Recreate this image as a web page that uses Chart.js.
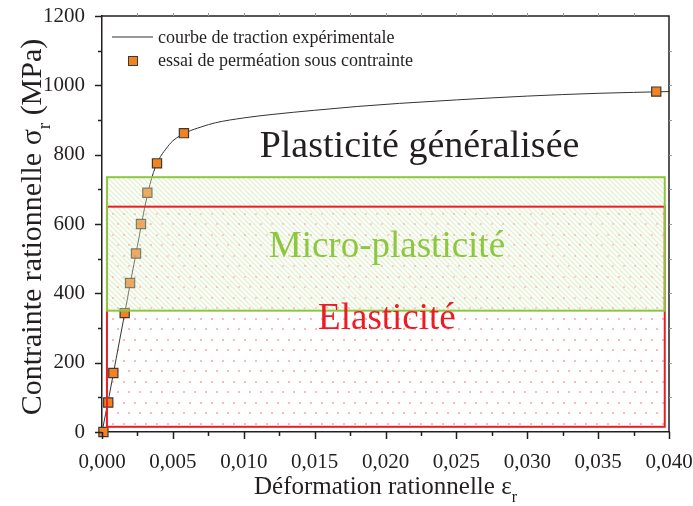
<!DOCTYPE html>
<html lang="fr">
<head>
<meta charset="utf-8">
<script src="https://cdn.jsdelivr.net/npm/chart.js@4.4.1/dist/chart.umd.min.js"></script>
<style>
  html, body { margin: 0; padding: 0; background: #fff; }
</style>
</head>
<body>
<canvas id="chart" width="693" height="506"></canvas>
<script>
// ---- Données -------------------------------------------------------------

// courbe de traction expérimentale (déformation / contrainte en MPa)
const strainCurve = [0, 0.0005, 0.001, 0.0015, 0.002, 0.0025, 0.003, 0.0035, 0.004,
                     0.0045, 0.005, 0.006, 0.007, 0.008, 0.010, 0.012, 0.015, 0.018,
                     0.021, 0.025, 0.030, 0.035, 0.040];
const stressCurve = [0, 103, 212, 320, 430, 537, 645, 732, 785,
                     816, 840, 865, 880, 892, 906, 916, 928, 939,
                     948, 958, 969, 977, 982];

// essais de perméation sous contrainte
const strainTests = [0.0001, 0.00044, 0.0008, 0.0016, 0.00198, 0.0024, 0.00275,
                     0.0032, 0.00388, 0.00578, 0.0391];
const stressTests = [0, 85, 170, 343, 430, 515, 600, 690, 775, 862, 982];

// domaines : élasticité, micro-plasticité
const regionNames     = ['Elasticité', 'Micro-plasticité', 'Plasticité généralisée'];
const regionStrainMin = [0.00035, 0.00035];
const regionStrainMax = [0.0397, 0.0397];
const regionStressMin = [15, 350];
const regionStressMax = [650, 735];

const xTicks = [0, 0.005, 0.010, 0.015, 0.020, 0.025, 0.030, 0.035, 0.040];
const yTicks = [0, 200, 400, 600, 800, 1000, 1200];

// ---- Styles ----------------------------------------------------------------
const INK   = '#231f20';
const RED   = '#ed1c24';
const GREEN = '#8dc63f';
const SERIF = '"Liberation Serif", "Times New Roman", serif';

// position des étiquettes de domaine (en unités des axes)
const regionLabelAt = [
    { x: 0.0201, y: 296 },
    { x: 0.0201, y: 504 },
    { x: 0.0224, y: 793 }
];
const regionLabelColor = [RED, GREEN, INK];
const regionLabelSize  = [37, 37, 38];

function hatchPattern(ctx) {
    const c = document.createElement('canvas');
    c.width = 5; c.height = 5;
    const g = c.getContext('2d');
    g.strokeStyle = 'rgba(141, 198, 63, 0.25)';
    g.lineWidth = 1.3;
    g.beginPath();
    g.moveTo(-1, -1); g.lineTo(6, 6);
    g.moveTo(-1, 4);  g.lineTo(1, 6);
    g.moveTo(4, -1);  g.lineTo(6, 1);
    g.stroke();
    return ctx.createPattern(c, 'repeat');
}

function dotPattern(ctx) {
    const c = document.createElement('canvas');
    c.width = 11; c.height = 21;
    const g = c.getContext('2d');
    g.fillStyle = 'rgba(237, 28, 36, 0.3)';
    g.fillRect(2, 3, 2, 2);
    g.fillRect(7, 13, 2, 2);
    return ctx.createPattern(c, 'repeat');
}

// ---- Domaines (rectangles + textes) ---------------------------------------
const regionsPlugin = {
    id: 'regions',
    afterDatasetsDraw(chart) {
        const { ctx, scales: { x, y } } = chart;
        const box = i => {
            const l = x.getPixelForValue(regionStrainMin[i]);
            const r = x.getPixelForValue(regionStrainMax[i]);
            const t = y.getPixelForValue(regionStressMax[i]);
            const b = y.getPixelForValue(regionStressMin[i]);
            return [l, t, r - l, b - t];
        };
        ctx.save();
        // élasticité : points roses
        ctx.fillStyle = dotPattern(ctx);
        ctx.fillRect(...box(0));
        // micro-plasticité : hachures vertes
        ctx.fillStyle = 'rgba(255, 255, 255, 0.3)';
        ctx.fillRect(...box(1));
        ctx.fillStyle = hatchPattern(ctx);
        ctx.fillRect(...box(1));

        ctx.lineWidth = 2;
        ctx.strokeStyle = RED;
        ctx.strokeRect(...box(0));
        ctx.strokeStyle = GREEN;
        ctx.strokeRect(...box(1));

        ctx.textAlign = 'center';
        ctx.textBaseline = 'alphabetic';
        regionNames.forEach((name, i) => {
            ctx.font = regionLabelSize[i] + 'px ' + SERIF;
            ctx.fillStyle = regionLabelColor[i];
            ctx.fillText(name,
                x.getPixelForValue(regionLabelAt[i].x),
                y.getPixelForValue(regionLabelAt[i].y));
        });
        ctx.restore();
    }
};

// ---- Cadre, graduations mineures, titres d'axes, légende -------------------
const framePlugin = {
    id: 'frame',
    afterDraw(chart) {
        const { ctx, chartArea: a, scales: { x, y } } = chart;
        ctx.save();
        ctx.strokeStyle = INK;
        ctx.lineWidth = 1.5;

        // cadre haut / droite
        ctx.beginPath();
        ctx.moveTo(a.left, a.top); ctx.lineTo(a.right, a.top); ctx.lineTo(a.right, a.bottom);
        ctx.stroke();

        // graduations (majeures + mineures)
        ctx.beginPath();
        for (let v = 0; v <= 0.04 + 1e-9; v += 0.0025) {
            const px = Math.round(x.getPixelForValue(v)) + 0.5;
            const major = Math.abs(v / 0.005 - Math.round(v / 0.005)) < 1e-6;
            ctx.moveTo(px, a.bottom); ctx.lineTo(px, a.bottom + (major ? 7 : 4));
        }
        for (let v = 0; v <= 1200; v += 100) {
            const py = Math.round(y.getPixelForValue(v)) + 0.5;
            ctx.moveTo(a.left, py); ctx.lineTo(a.left - (v % 200 === 0 ? 7 : 4), py);
        }
        ctx.stroke();

        ctx.strokeStyle = '#9a9a9a';
        ctx.lineWidth = 1;
        ctx.beginPath();
        for (let v = 0.0025; v < 0.04; v += 0.0025) {
            const px = Math.round(x.getPixelForValue(v)) + 0.5;
            ctx.moveTo(px, a.top); ctx.lineTo(px, a.top - 3);
        }
        for (let v = 100; v < 1200; v += 100) {
            const py = Math.round(y.getPixelForValue(v)) + 0.5;
            ctx.moveTo(a.right, py); ctx.lineTo(a.right + 3, py);
        }
        ctx.stroke();

        // titres d'axes avec indice
        ctx.fillStyle = INK;
        ctx.textBaseline = 'alphabetic';
        ctx.textAlign = 'left';
        const drawSub = (main, sub, tail, size) => {
            const subSize = Math.round(size * 0.62);
            ctx.font = size + 'px ' + SERIF;
            const w1 = ctx.measureText(main).width;
            const w3 = ctx.measureText(tail).width;
            ctx.font = subSize + 'px ' + SERIF;
            const w2 = ctx.measureText(sub).width;
            let cx = -(w1 + w2 + w3) / 2;
            ctx.font = size + 'px ' + SERIF;
            ctx.fillText(main, cx, 0);
            cx += w1;
            ctx.font = subSize + 'px ' + SERIF;
            ctx.fillText(sub, cx, size * 0.3);
            cx += w2;
            ctx.font = size + 'px ' + SERIF;
            ctx.fillText(tail, cx, 0);
        };
        ctx.save();
        ctx.translate((a.left + a.right) / 2, 494);
        drawSub('Déformation rationnelle ε', 'r', '', 25);
        ctx.restore();

        ctx.save();
        ctx.translate(41, (a.top + a.bottom) / 2 + 3);
        ctx.rotate(-Math.PI / 2);
        drawSub('Contrainte rationnelle σ', 'r', ' (MPa)', 30);
        ctx.restore();

        // légende
        const ds = chart.data.datasets;
        ctx.font = '18px ' + SERIF;
        ctx.fillStyle = INK;
        ctx.strokeStyle = '#333';
        ctx.lineWidth = 1;
        ctx.beginPath();
        ctx.moveTo(a.left + 10, 37); ctx.lineTo(a.left + 51, 37);
        ctx.stroke();
        ctx.fillText(ds[0].label, a.left + 56, 43);
        ctx.fillStyle = ds[1].backgroundColor;
        ctx.fillRect(a.left + 26, 56, 10, 10);
        ctx.strokeStyle = ds[1].borderColor;
        ctx.strokeRect(a.left + 26.5, 56.5, 9, 9);
        ctx.fillStyle = INK;
        ctx.fillText(ds[1].label, a.left + 56, 66);
        ctx.restore();
    }
};

// ---- Graphique -------------------------------------------------------------
const fmtStrain = v => v.toFixed(3).replace('.', ',');

new Chart(document.getElementById('chart'), {
    type: 'scatter',
    data: {
        datasets: [
            {
                label: 'courbe de traction expérimentale',
                data: strainCurve.map((e, i) => ({ x: e, y: stressCurve[i] })),
                showLine: true,
                borderColor: '#333333',
                borderWidth: 1,
                pointRadius: 0,
                cubicInterpolationMode: 'monotone',
                order: 2
            },
            {
                label: 'essai de perméation sous contrainte',
                data: strainTests.map((e, i) => ({ x: e, y: stressTests[i] })),
                pointStyle: 'rect',
                pointRadius: 6.5,
                backgroundColor: '#f58220',
                borderColor: '#3d3a36',
                borderWidth: 1.2,
                order: 1
            }
        ]
    },
    options: {
        responsive: false,
        animation: false,
        clip: false,
        layout: { padding: { top: 16, right: 24, left: 0, bottom: 0 } },
        plugins: {
            legend: { display: false },
            tooltip: { enabled: false }
        },
        scales: {
            x: {
                type: 'linear',
                min: 0,
                max: 0.04,
                afterBuildTicks: s => { s.ticks = xTicks.map(v => ({ value: v })); },
                afterFit: s => { s.height = 74; s.paddingLeft = 0; s.paddingRight = 0; },
                ticks: {
                    callback: v => fmtStrain(v),
                    font: { family: SERIF, size: 21 },
                    color: INK,
                    padding: 10,
                    maxRotation: 0
                },
                grid: { display: false },
                border: { display: true, color: INK, width: 1.5 }
            },
            y: {
                min: 0,
                max: 1200,
                afterBuildTicks: s => { s.ticks = yTicks.map(v => ({ value: v })); },
                afterFit: s => { s.width = 102; s.paddingTop = 0; s.paddingBottom = 0; },
                ticks: {
                    callback: v => String(v),
                    font: { family: SERIF, size: 21 },
                    color: INK,
                    padding: 9
                },
                grid: { display: false },
                border: { display: true, color: INK, width: 1.5 }
            }
        }
    },
    plugins: [regionsPlugin, framePlugin]
});
</script>
</body>
</html>
